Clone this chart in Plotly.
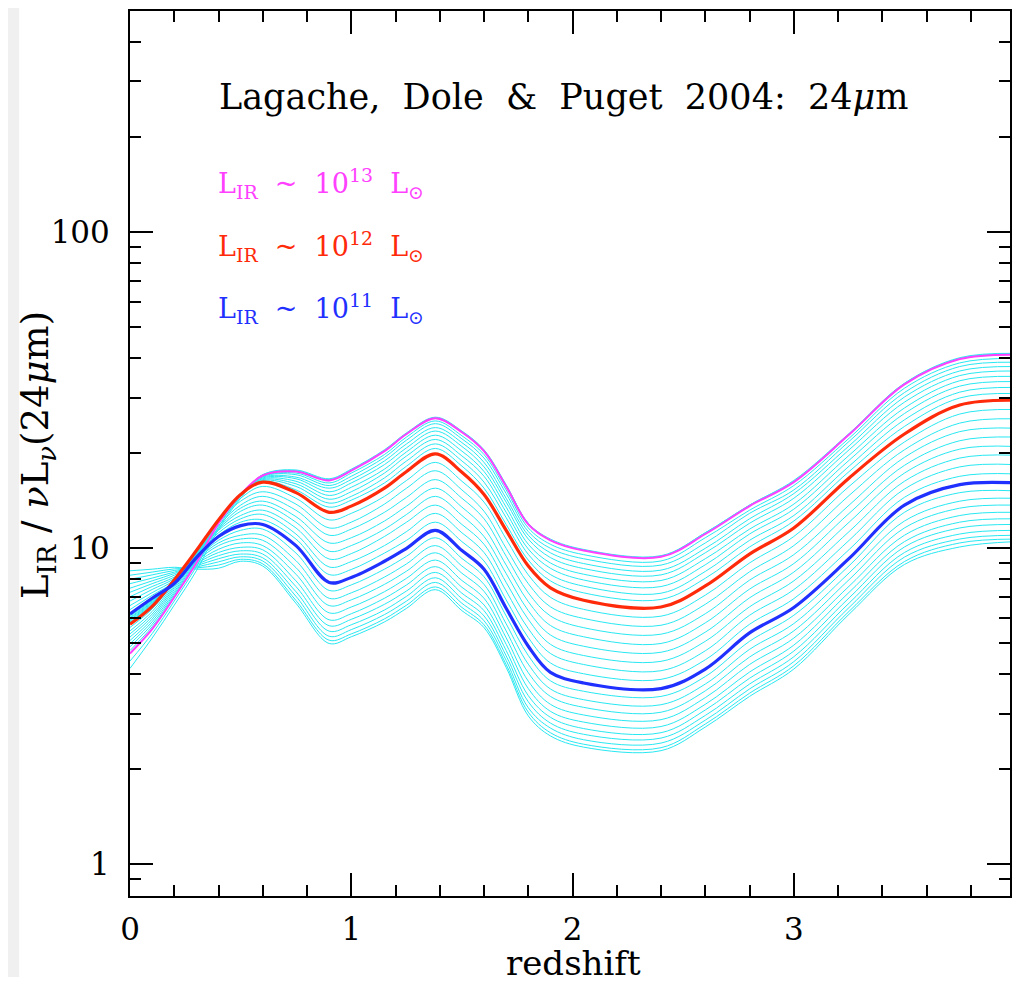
import plotly.graph_objects as go

# redshift nodes
z = [0, 0.1, 0.2, 0.3, 0.4, 0.5, 0.6, 0.75, 0.9, 1.0, 1.15, 1.25, 1.38, 1.5, 1.6,
     1.7, 1.8, 1.9, 2.05, 2.4, 2.6, 2.8, 3.0, 3.25, 3.5, 3.75, 4.0]

# L_IR / nuL_nu(24um) for the model family (faintest first)
low_family = [
    [8.49, 8.59, 8.71, 8.59, 8.65, 9.10, 8.79, 6.70, 5.00, 5.25, 5.85, 6.46, 7.40, 6.35, 5.61, 4.20, 2.95, 2.55, 2.35, 2.29, 2.72, 3.40, 4.15, 6.19, 8.89, 10.1, 10.5],
    [8.22, 8.41, 8.61, 8.67, 8.85, 9.23, 8.93, 6.84, 5.12, 5.36, 5.98, 6.61, 7.55, 6.50, 5.73, 4.29, 3.03, 2.61, 2.40, 2.34, 2.78, 3.48, 4.25, 6.32, 9.08, 10.4, 10.7],
    [7.98, 8.24, 8.51, 8.73, 9.06, 9.40, 9.12, 7.05, 5.27, 5.53, 6.17, 6.81, 7.80, 6.70, 5.90, 4.42, 3.13, 2.70, 2.48, 2.42, 2.86, 3.59, 4.38, 6.50, 9.38, 10.7, 11.0],
    [7.73, 8.05, 8.41, 8.81, 9.27, 9.59, 9.33, 7.29, 5.47, 5.73, 6.38, 7.05, 8.07, 6.93, 6.11, 4.57, 3.27, 2.80, 2.58, 2.51, 2.96, 3.72, 4.54, 6.71, 9.70, 11.1, 11.4],
    [7.48, 7.89, 8.32, 8.89, 9.48, 9.82, 9.59, 7.57, 5.69, 5.96, 6.65, 7.33, 8.39, 7.21, 6.35, 4.75, 3.42, 2.92, 2.69, 2.61, 3.08, 3.88, 4.73, 6.97, 10.1, 11.6, 11.9],
    [7.26, 7.73, 8.22, 8.97, 9.70, 10.07, 9.89, 7.89, 5.94, 6.21, 6.95, 7.66, 8.75, 7.53, 6.62, 4.97, 3.60, 3.05, 2.82, 2.73, 3.21, 4.06, 4.94, 7.26, 10.5, 12.1, 12.4],
    [7.03, 7.57, 8.11, 9.04, 9.93, 10.4, 10.2, 8.28, 6.25, 6.52, 7.29, 8.04, 9.18, 7.91, 6.95, 5.21, 3.80, 3.21, 2.97, 2.87, 3.37, 4.29, 5.20, 7.59, 11.0, 12.7, 13.0],
    [6.81, 7.41, 8.02, 9.12, 10.2, 10.7, 10.6, 8.69, 6.59, 6.87, 7.69, 8.47, 9.68, 8.34, 7.31, 5.48, 4.04, 3.40, 3.14, 3.03, 3.54, 4.53, 5.48, 7.96, 11.6, 13.4, 13.7],
    [6.59, 7.24, 7.93, 9.20, 10.4, 11.0, 11.0, 9.14, 6.95, 7.23, 8.11, 8.93, 10.2, 8.79, 7.69, 5.77, 4.30, 3.59, 3.32, 3.20, 3.72, 4.79, 5.78, 8.36, 12.2, 14.1, 14.4],
    [6.40, 7.10, 7.83, 9.27, 10.6, 11.4, 11.5, 9.66, 7.36, 7.66, 8.59, 9.44, 10.8, 9.29, 8.13, 6.11, 4.58, 3.81, 3.53, 3.40, 3.93, 5.08, 6.14, 8.81, 13.0, 15.0, 15.2],
]
curve_1e11 = [6.20, 6.95, 7.74, 9.35, 10.9, 11.8, 11.9, 10.2, 7.80, 8.09, 9.10, 10.0, 11.4, 9.84, 8.59, 6.46, 4.90, 4.05, 3.75, 3.60, 4.15, 5.40, 6.50, 9.29, 13.7, 15.9, 16.1]
mid_family = [
    [6.14, 6.90, 7.76, 9.40, 11.0, 12.1, 12.3, 10.7, 8.26, 8.57, 9.66, 10.6, 12.1, 10.5, 9.12, 6.87, 5.22, 4.34, 4.01, 3.85, 4.44, 5.75, 6.93, 9.91, 14.5, 16.9, 17.2],
    [6.10, 6.85, 7.78, 9.46, 11.2, 12.4, 12.8, 11.1, 8.73, 9.08, 10.2, 11.3, 12.9, 11.2, 9.70, 7.33, 5.57, 4.65, 4.29, 4.10, 4.74, 6.14, 7.40, 10.6, 15.4, 18.1, 18.4],
    [6.04, 6.81, 7.82, 9.51, 11.4, 12.7, 13.2, 11.6, 9.25, 9.62, 10.9, 12.1, 13.7, 11.9, 10.3, 7.80, 5.96, 4.97, 4.58, 4.39, 5.08, 6.53, 7.89, 11.3, 16.3, 19.3, 19.7],
    [6.00, 6.76, 7.83, 9.57, 11.5, 13.1, 13.7, 12.1, 9.79, 10.2, 11.5, 12.8, 14.6, 12.7, 10.9, 8.32, 6.35, 5.32, 4.90, 4.69, 5.43, 6.97, 8.41, 12.1, 17.3, 20.6, 21.0],
    [5.94, 6.73, 7.85, 9.62, 11.6, 13.4, 14.1, 12.6, 10.4, 10.8, 12.2, 13.6, 15.5, 13.5, 11.6, 8.85, 6.78, 5.70, 5.25, 5.00, 5.81, 7.43, 8.95, 12.9, 18.3, 21.9, 22.5],
    [5.90, 6.68, 7.87, 9.68, 11.8, 13.7, 14.6, 13.2, 11.0, 11.5, 13.0, 14.5, 16.5, 14.4, 12.4, 9.44, 7.23, 6.11, 5.61, 5.35, 6.21, 7.93, 9.55, 13.7, 19.4, 23.4, 24.0],
    [5.85, 6.64, 7.91, 9.73, 12.0, 14.1, 15.1, 13.8, 11.6, 12.1, 13.8, 15.5, 17.6, 15.3, 13.1, 10.0, 7.73, 6.53, 6.00, 5.71, 6.65, 8.43, 10.2, 14.7, 20.5, 24.9, 25.7],
    [5.81, 6.59, 7.93, 9.79, 12.1, 14.4, 15.7, 14.4, 12.3, 12.9, 14.6, 16.4, 18.7, 16.3, 14.0, 10.7, 8.24, 7.00, 6.41, 6.10, 7.11, 8.99, 10.9, 15.7, 21.7, 26.6, 27.5],
]
curve_1e12 = [5.75, 6.55, 7.94, 9.84, 12.3, 14.8, 16.2, 15.0, 13.0, 13.6, 15.5, 17.5, 19.9, 17.4, 14.8, 11.4, 8.79, 7.50, 6.85, 6.52, 7.60, 9.59, 11.6, 16.7, 23.0, 28.4, 29.4]
high_family = [
    [5.62, 6.43, 7.83, 9.75, 12.3, 14.9, 16.3, 15.3, 13.5, 14.2, 16.1, 18.2, 20.7, 18.2, 15.5, 11.9, 9.18, 7.89, 7.23, 6.89, 8.04, 10.1, 12.2, 17.5, 24.3, 29.9, 30.9],
    [5.48, 6.31, 7.73, 9.64, 12.2, 14.9, 16.4, 15.7, 13.9, 14.6, 16.7, 18.9, 21.4, 18.9, 16.2, 12.5, 9.57, 8.26, 7.59, 7.21, 8.45, 10.6, 12.7, 18.2, 25.5, 31.2, 32.3],
    [5.36, 6.19, 7.62, 9.55, 12.2, 14.9, 16.5, 16.0, 14.3, 15.1, 17.3, 19.6, 22.1, 19.6, 16.9, 13.0, 9.95, 8.65, 7.94, 7.57, 8.87, 11.1, 13.3, 19.0, 26.7, 32.6, 33.7],
    [5.24, 6.08, 7.52, 9.46, 12.2, 14.9, 16.6, 16.3, 14.7, 15.6, 17.8, 20.2, 22.8, 20.3, 17.5, 13.5, 10.3, 8.99, 8.28, 7.91, 9.27, 11.5, 13.8, 19.7, 27.8, 33.9, 35.0],
    [5.11, 5.97, 7.41, 9.35, 12.1, 14.9, 16.7, 16.6, 15.1, 16.1, 18.4, 20.8, 23.5, 21.0, 18.1, 14.0, 10.7, 9.35, 8.63, 8.24, 9.68, 12.0, 14.4, 20.5, 29.0, 35.2, 36.4],
    [4.99, 5.86, 7.29, 9.27, 12.1, 14.9, 16.8, 16.8, 15.5, 16.5, 18.9, 21.4, 24.1, 21.6, 18.7, 14.4, 11.0, 9.68, 8.95, 8.53, 10.0, 12.4, 14.9, 21.1, 30.1, 36.4, 37.6],
    [4.88, 5.75, 7.19, 9.18, 12.1, 14.9, 16.9, 17.1, 15.8, 16.9, 19.4, 22.0, 24.8, 22.2, 19.3, 14.9, 11.3, 10.0, 9.27, 8.85, 10.4, 12.9, 15.3, 21.8, 31.1, 37.6, 38.8],
    [4.75, 5.65, 7.10, 9.08, 12.0, 14.8, 16.9, 17.3, 16.1, 17.3, 19.8, 22.5, 25.3, 22.7, 19.8, 15.3, 11.6, 10.3, 9.55, 9.12, 10.8, 13.2, 15.8, 22.3, 32.1, 38.6, 39.9],
]
curve_1e13 = [4.65, 5.55, 7.00, 8.99, 12.0, 14.8, 17.0, 17.5, 16.4, 17.6, 20.3, 23.0, 25.8, 23.3, 20.3, 15.7, 11.9, 10.6, 9.84, 9.40, 11.1, 13.6, 16.2, 22.9, 33.0, 39.7, 41.0]
top_family = [
    [4.40, 5.37, 6.81, 8.75, 11.7, 14.6, 17.1, 17.6, 16.5, 17.7, 20.4, 23.1, 25.9, 23.4, 20.4, 15.8, 12.0, 10.6, 9.88, 9.44, 11.2, 13.7, 16.3, 23.0, 33.2, 39.9, 41.2],
    [4.17, 5.20, 6.61, 8.49, 11.5, 14.4, 17.1, 17.7, 16.6, 17.8, 20.5, 23.2, 26.0, 23.5, 20.5, 15.9, 12.0, 10.7, 9.92, 9.48, 11.2, 13.7, 16.4, 23.1, 33.3, 40.1, 41.4],
]

x_major = [0, 1, 2, 3, 4]
y_major = [1, 10, 100]
y_major_text = ["1", "10", "100"]
y_minor = [0.9, 2, 3, 4, 5, 6, 7, 8, 9, 20, 30, 40, 50, 60, 70, 80, 90, 200, 300, 400, 500]

CYAN = "rgb(40,232,242)"
MAGENTA = "#ff40ff"
RED = "#ff2a0a"
BLUE = "#1f30ff"
FONT = "DejaVu Serif"

# figure geometry (the page adds an 8 px body margin around the figure)
W, H = 1005, 969
ML, MR, MT, MB = 122, 2, 1, 81
PAGE_OFF = 8
PLOT_L = PAGE_OFF + ML
PLOT_R = PAGE_OFF + W - MR
PLOT_T = PAGE_OFF + MT
PLOT_B = PAGE_OFF + H - MB

fig = go.Figure()

def add_line(vals, color, width):
    fig.add_trace(go.Scatter(x=z, y=vals, mode="lines",
                             line=dict(color=color, width=width, shape="spline", smoothing=1.0),
                             hoverinfo="skip"))

for row in low_family + mid_family + high_family + top_family:
    add_line(row, CYAN, 1)
add_line(curve_1e13, MAGENTA, 2)
add_line(curve_1e12, RED, 3.2)
add_line(curve_1e11, BLUE, 3.2)

def px_x(px):
    return (px - PLOT_L) / float(PLOT_R - PLOT_L)

def px_y(py):
    return (PLOT_B - py) / float(PLOT_B - PLOT_T)

# white page frame over light grey surround
fig.add_shape(type="rect", xref="paper", yref="paper",
              x0=px_x(19), x1=px_x(1030), y0=px_y(981), y1=px_y(6),
              fillcolor="white", line=dict(width=0), layer="below")

axis_common = dict(showline=True, linecolor="black", linewidth=2, mirror="ticks",
                   ticks="inside", ticklen=23, tickwidth=1.7, tickcolor="black",
                   showgrid=False, zeroline=False,
                   tickfont=dict(family=FONT, size=31, color="black"))

fig.update_xaxes(range=[0, 3.977], tickvals=x_major, ticktext=[str(v) for v in x_major],
                 ticklabelstandoff=5,
                 minor=dict(ticks="inside", ticklen=11, tickwidth=1.7, tickcolor="black",
                            dtick=0.2, tick0=0, showgrid=False),
                 **axis_common)
fig.update_yaxes(type="log", range=[-0.1, 2.7], tickvals=y_major, ticktext=y_major_text,
                 ticklabelstandoff=12,
                 minor=dict(ticks="inside", ticklen=11, tickwidth=1.7, tickcolor="black",
                            tickvals=y_minor, showgrid=False),
                 **axis_common)

ann = [
    dict(text="Lagache,\u00a0 Dole\u00a0 &\u00a0 Puget\u00a0 2004:\u00a0 24<i>\u03bc</i>m", x=px_x(217), y=px_y(95),
         xanchor="left", yanchor="middle", font=dict(family=FONT, size=35, color="black")),
    dict(text="L<sub>IR</sub>\u00a0 ~\u00a0 10<sup>13</sup>\u00a0 L<sub>\u2299</sub>", x=px_x(216), y=px_y(182),
         xanchor="left", yanchor="middle", font=dict(family=FONT, size=27, color=MAGENTA)),
    dict(text="L<sub>IR</sub>\u00a0 ~\u00a0 10<sup>12</sup>\u00a0 L<sub>\u2299</sub>", x=px_x(216), y=px_y(245),
         xanchor="left", yanchor="middle", font=dict(family=FONT, size=27, color=RED)),
    dict(text="L<sub>IR</sub>\u00a0 ~\u00a0 10<sup>11</sup>\u00a0 L<sub>\u2299</sub>", x=px_x(216), y=px_y(307),
         xanchor="left", yanchor="middle", font=dict(family=FONT, size=27, color=BLUE)),
    dict(text="L<sub>IR</sub> / <i>\u03bd</i>L<sub><i>\u03bd</i></sub>(24<i>\u03bc</i>m)", x=px_x(38), y=px_y(454),
         xanchor="center", yanchor="middle", textangle=-90,
         font=dict(family=FONT, size=37, color="black")),
    dict(text="redshift", x=px_x(574), y=px_y(963),
         xanchor="center", yanchor="middle", font=dict(family=FONT, size=34, color="black")),
]
for a in ann:
    fig.add_annotation(xref="paper", yref="paper", showarrow=False, **a)

fig.update_layout(width=W, height=H, margin=dict(l=ML, r=MR, t=MT, b=MB),
                  paper_bgcolor="#f0f0f0", plot_bgcolor="white", showlegend=False,
                  font=dict(family=FONT, color="black"))

fig.write_html("out.html")
